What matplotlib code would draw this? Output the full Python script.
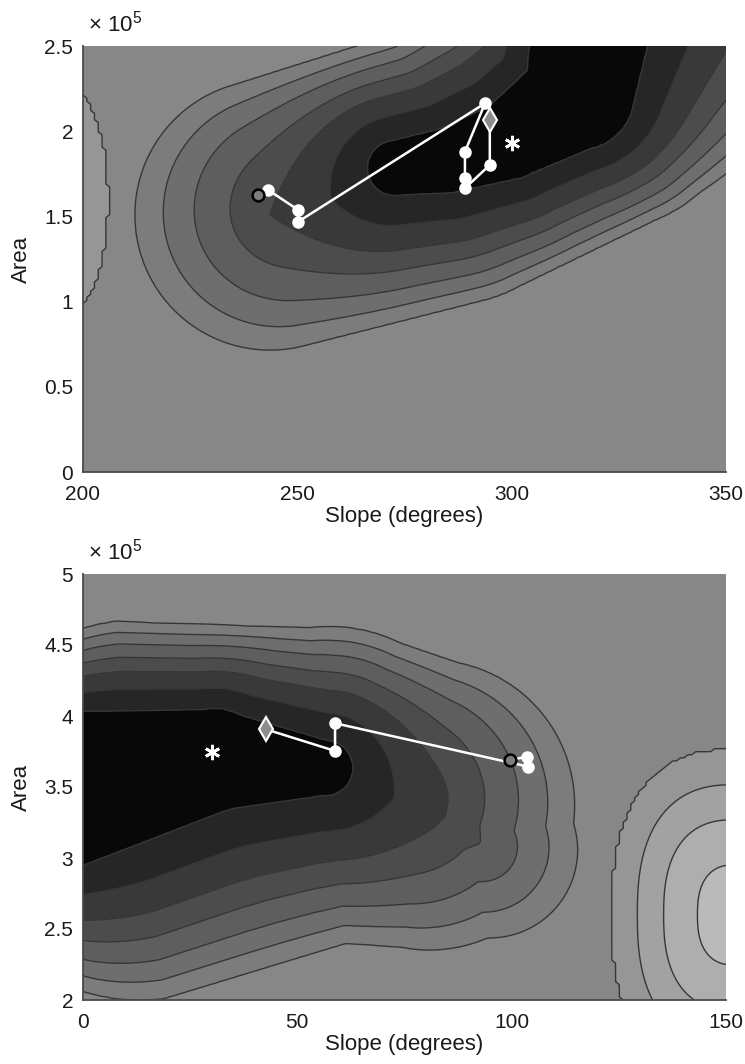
import numpy as np
import matplotlib
matplotlib.use("Agg")
import matplotlib.pyplot as plt
from matplotlib.colors import ListedColormap, BoundaryNorm
from matplotlib.ticker import FuncFormatter, FixedLocator

plt.rcParams['font.family'] = ['Liberation Sans', 'DejaVu Sans']
plt.rcParams['mathtext.fontset'] = 'custom'
plt.rcParams['mathtext.rm'] = 'Liberation Sans'
plt.rcParams['mathtext.it'] = 'Liberation Sans:italic'

# ---------------- panel 1 ----------------
p1_xlim = (200, 350)
p1_ylim = (0, 2.5e5)
p1_xticks = [200, 250, 300, 350]
p1_yticks = [0, 0.5e5, 1.0e5, 1.5e5, 2.0e5, 2.5e5]

p1_start = (240.9, 1.626e5)
p1_step_slope = [243.2, 250.2, 250.2, 293.8, 289.1, 289.1, 289.1, 294.9]
p1_step_area = [1.655e5, 1.538e5, 1.469e5, 2.164e5, 1.880e5, 1.724e5, 1.665e5, 1.802e5]
p1_end = (294.9, 2.066e5)
p1_best = (300.0, 1.929e5)

# misfit surface: deepest core and outer rim of the valley (ridge polylines)
p1_core_slope = [272.8, 285.6, 299.6, 315.9, 318.3]
p1_core_area = [1.784e5, 1.831e5, 1.948e5, 2.212e5, 2.594e5]
p1_core_radius = [6.5, 7.7, 9.3, 12.8, 14.0]
p1_rim_slope = [243.6, 285.6, 320.6, 348.6]
p1_rim_area = [1.508e5, 1.808e5, 2.300e5, 2.887e5]
p1_rim_radius = [31.5, 32.7, 35.0, 37.3]
# raised region: centre slope, centre area, half-width slope, half-width area,
# height, squareness exponent
p1_hill = (197.0, 1.596e5, 9.3, 0.66e5, 0.15, 2.0)

# ---------------- panel 2 ----------------
p2_xlim = (0, 150)
p2_ylim = (2.0e5, 5.0e5)
p2_xticks = [0, 50, 100, 150]
p2_yticks = [2.0e5, 2.5e5, 3.0e5, 3.5e5, 4.0e5, 4.5e5, 5.0e5]

p2_start = (99.6, 3.690e5)
p2_step_slope = [103.5, 103.9, 58.8, 58.8]
p2_step_area = [3.713e5, 3.643e5, 3.949e5, 3.754e5]
p2_end = (42.7, 3.906e5)
p2_best = (30.0, 3.749e5)

p2_core_slope = [-5.4, 30.8, 56.5]
p2_core_area = [3.479e5, 3.690e5, 3.634e5]
p2_core_radius = [18.7, 12.1, 6.5]
p2_rim_slope = [13.3, 57.6, 80.9, 94.9]
p2_rim_area = [3.338e5, 3.514e5, 3.373e5, 3.056e5]
p2_rim_radius = [44.3, 36.9, 33.8, 20.5]
p2_hill = (152.1, 2.599e5, 29.2, 1.176e5, 1.0, 2.5)

# contour levels: valley fraction from core (0) to rim (1), then raised bands
valley_levels = [0.0, 0.24, 0.44, 0.60, 0.75, 0.88, 1.0]
hill_levels = [2.0, 2.22, 2.43, 2.70]
band_colors = ['#080808', '#262626', '#393939', '#4c4c4c', '#5e5e5e', '#6e6e6e', '#7c7c7c',
               '#878787', '#969696', '#a2a2a2', '#aeaeae', '#bababa']

FIG_W, FIG_H = 745, 1064
fig = plt.figure(figsize=(FIG_W / 100, FIG_H / 100), dpi=100)
ax1 = fig.add_axes([83 / FIG_W, (FIG_H - 472) / FIG_H, 643 / FIG_W, 426 / FIG_H])
ax2 = fig.add_axes([83 / FIG_W, (FIG_H - 1000) / FIG_H, 643 / FIG_W, 426 / FIG_H])


def tube_distance(X, Y, cx, cy, cr, k):
    """Signed distance to a tapered tube along a polyline (negative inside)."""
    Ys = Y * k
    cys = np.asarray(cy) * k
    best = np.full(X.shape, np.inf)
    for i in range(len(cx) - 1):
        ax_, ay_ = cx[i], cys[i]
        vx, vy = cx[i + 1] - ax_, cys[i + 1] - ay_
        L2 = vx * vx + vy * vy
        tau = np.clip(((X - ax_) * vx + (Ys - ay_) * vy) / L2, 0, 1)
        qx = ax_ + tau * vx
        qy = ay_ + tau * vy
        rr = cr[i] + tau * (cr[i + 1] - cr[i])
        best = np.minimum(best, np.hypot(X - qx, Ys - qy) - rr)
    return best


def surface(ax, xlim, ylim, core, rim, hill, n=(170, 140)):
    bb = ax.get_position()
    px_w = bb.width * FIG_W
    px_h = bb.height * FIG_H
    k = (px_h / (ylim[1] - ylim[0])) / (px_w / (xlim[1] - xlim[0]))
    x = np.linspace(xlim[0], xlim[1], n[0])
    y = np.linspace(ylim[0], ylim[1], n[1])
    X, Y = np.meshgrid(x, y)
    d_in = tube_distance(X, Y, *core, k)
    d_out = -tube_distance(X, Y, *rim, k)
    frac = d_in / np.maximum(d_in + d_out, 1e-9)
    Z = np.where(d_in <= 0, d_in / 50.0,
                 np.where(d_out <= 0, np.minimum(1 - d_out / 50.0, 1.5), frac))
    hx, hy, rx, ry, height, p = hill
    h = (np.abs((X - hx) / rx) ** p + np.abs((Y - hy) / ry) ** p) ** (1 / p)
    Z = np.where(h < 1, 2 + (1 - h) * height, Z)
    return X, Y, Z


edges = [-10] + valley_levels + hill_levels + [10]
cmap = ListedColormap(band_colors)
norm = BoundaryNorm(edges, cmap.N)


def draw_panel(ax, xlim, ylim, xticks, yticks, core, rim, hill, start, st_x, st_y, end, best):
    X, Y, Z = surface(ax, xlim, ylim, core, rim, hill)
    ax.contourf(X, Y, Z, levels=edges, cmap=cmap, norm=norm)
    ax.contour(X, Y, Z, levels=edges[1:-1], colors='#363636', linewidths=1.0)

    path_x = [start[0]] + st_x + [end[0]]
    path_y = [start[1]] + st_y + [end[1]]
    ax.plot(path_x, path_y, color='white', lw=1.8, zorder=3)
    ax.plot(st_x, st_y, 'o', ms=8, mfc='white', mec='white', zorder=4)
    ax.plot(*start, 'o', ms=8.5, mfc='#7d7d7d', mec='black', mew=1.8, zorder=5)
    ax.plot(*end, 'd', ms=12, mfc='#8c8c8c', mec='white', mew=1.5, zorder=5)
    ax.plot(*best, marker=(6, 2, 0), ms=11, mec='white', mew=2.0, ls='none', zorder=5)

    ax.set_xlim(xlim)
    ax.set_ylim(ylim)
    ax.xaxis.set_major_locator(FixedLocator(xticks))
    ax.yaxis.set_major_locator(FixedLocator(yticks))
    ax.yaxis.set_major_formatter(FuncFormatter(lambda v, p: f"{v / 1e5:g}"))
    ax.tick_params(length=0, labelsize=15, colors='#1a1a1a')
    ax.tick_params(axis='y', pad=7)
    ax.tick_params(axis='x', pad=9)
    for s in ('top', 'right'):
        ax.spines[s].set_visible(False)
    for s in ('left', 'bottom'):
        ax.spines[s].set_color('#4a4a4a')
        ax.spines[s].set_linewidth(1.3)
    ax.set_xlabel('Slope (degrees)', fontsize=16, color='#1a1a1a')
    ax.set_ylabel('Area', fontsize=16, color='#1a1a1a')
    ax.xaxis.set_label_coords(0.5, -0.105)
    ax.xaxis.label.set_va('center')
    ax.yaxis.set_label_coords(-0.095, 0.5)
    ax.yaxis.label.set_va('center')
    ax.text(0.008, 1.052, r'$\times$ 10$^{5}$', transform=ax.transAxes,
            ha='left', va='center', fontsize=16, color='#1a1a1a')


draw_panel(ax1, p1_xlim, p1_ylim, p1_xticks, p1_yticks,
           (p1_core_slope, p1_core_area, p1_core_radius),
           (p1_rim_slope, p1_rim_area, p1_rim_radius), p1_hill,
           p1_start, p1_step_slope, p1_step_area, p1_end, p1_best)
draw_panel(ax2, p2_xlim, p2_ylim, p2_xticks, p2_yticks,
           (p2_core_slope, p2_core_area, p2_core_radius),
           (p2_rim_slope, p2_rim_area, p2_rim_radius), p2_hill,
           p2_start, p2_step_slope, p2_step_area, p2_end, p2_best)

fig.savefig('out.png', dpi=100, facecolor='white')
